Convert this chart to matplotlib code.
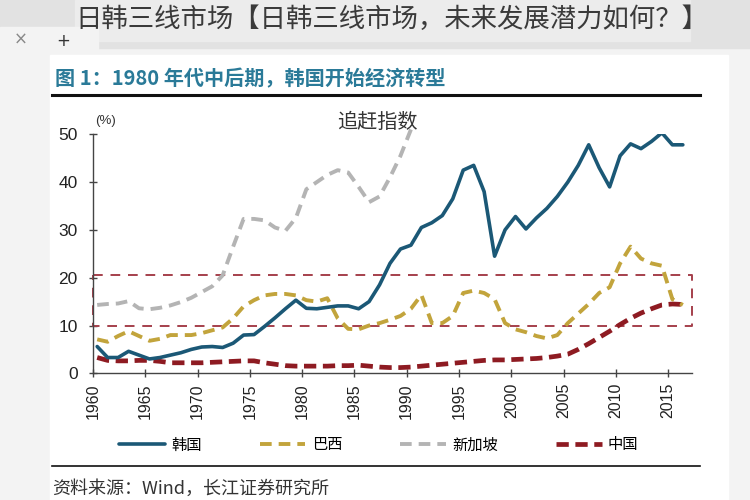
import numpy as np
import matplotlib.pyplot as plt
from matplotlib.patches import Rectangle
from matplotlib.lines import Line2D

plt.rcParams['font.family'] = ['Noto Sans CJK SC', 'DejaVu Sans']

# ---- data (catch-up index, %) ----
years = list(range(1960, 2017))
korea = [5.6, 3.3, 3.3, 4.6, 3.8, 3.0, 3.3, 3.8, 4.3, 5.0,
         5.5, 5.6, 5.4, 6.3, 8.0, 8.1, 9.8, 11.6, 13.5, 15.3,
         13.6, 13.5, 13.8, 14.1, 14.1, 13.5, 15.0, 18.5, 23.0, 26.0,
         26.8, 30.5, 31.5, 33.0, 36.5, 42.5, 43.5, 38.0, 24.5, 30.0,
         32.8, 30.2, 32.5, 34.5, 37.0, 40.0, 43.5, 47.8, 43.0, 39.0,
         45.5, 48.0, 47.0, 48.5, 50.3, 47.8, 47.8]
brazil = [7.1, 6.6, 7.8, 8.8, 7.8, 6.8, 7.2, 8.0, 8.0, 8.0,
          8.4, 9.0, 9.6, 11.5, 14.0, 15.3, 16.3, 16.6, 16.6, 16.3,
          15.3, 15.0, 15.7, 11.5, 9.3, 9.2, 10.0, 10.5, 11.2, 12.0,
          13.5, 16.4, 10.5, 10.5, 12.0, 16.8, 17.3, 16.8, 15.5, 10.5,
          9.2, 8.6, 7.8, 7.3, 8.0, 10.5, 12.5, 14.5, 16.8, 18.0,
          23.0, 26.5, 24.0, 23.0, 22.5, 15.5, 14.3]
singapore_years = list(range(1960, 1991))
singapore = [14.3, 14.5, 14.6, 15.1, 13.6, 13.4, 13.7, 14.2, 14.9, 15.8,
             17.0, 18.2, 20.5, 26.5, 32.3, 32.3, 32.0, 30.5, 29.8, 32.5,
             38.5, 40.0, 41.5, 42.5, 42.0, 39.0, 35.8, 37.0, 41.0, 45.5,
             51.0]
china = [3.3, 2.7, 2.6, 2.6, 2.7, 2.7, 2.5, 2.2, 2.2, 2.2,
         2.2, 2.3, 2.4, 2.5, 2.6, 2.6, 2.2, 1.9, 1.6, 1.5,
         1.5, 1.5, 1.5, 1.6, 1.6, 1.7, 1.5, 1.3, 1.2, 1.2,
         1.3, 1.5, 1.7, 1.9, 2.1, 2.3, 2.5, 2.7, 2.8, 2.8,
         2.9, 3.0, 3.1, 3.3, 3.6, 4.0, 5.0, 6.2, 7.5, 8.8,
         10.2, 11.5, 12.6, 13.5, 14.3, 14.5, 14.4]
band = [10, 20.5]          # dashed box: middle-income trap zone
xticks = list(range(1960, 2016, 5))
yticks = [0, 10, 20, 30, 40, 50]

c_korea, c_brazil, c_sing, c_china = "#1b5876", "#c2a43c", "#b4b4b4", "#8e1b22"
c_box = "#a5404c"

fig = plt.figure(figsize=(7.5, 5), dpi=100)
fig.patch.set_facecolor("#f3f3f3")


def bg_rect(x, y, w, h, color):
    fig.patches.append(Rectangle((x, y), w, h, transform=fig.transFigure,
                                 color=color, zorder=-5))


# browser-like header strip
bg_rect(0, 0.905, 1, 0.095, "#e2e2e2")
bg_rect(0.1, 0.918, 0.82, 0.082, "#ececec")
bg_rect(0, 0.89, 0.13, 0.055, "#f3f3f3")
fig.text(0.1, 0.962, "日韩三线市场【日韩三线市场，未来发展潜力如何？】",
         fontsize=19, color="#3a3a3a", va="center", ha="left", fontweight="light")
fig.text(0.027, 0.921, "×", fontsize=12, color="#888888", va="center", ha="center",
         family=["DejaVu Sans"])
fig.text(0.084, 0.918, "+", fontsize=12, color="#333333", va="center", ha="center",
         family=["DejaVu Sans"])

# white chart card
bg_rect(0.067, 0, 0.904, 0.89, "white")
fig.text(0.073, 0.843, "图 1：1980 年代中后期，韩国开始经济转型",
         fontsize=14.5, color="#2a7a98", va="center", ha="left", fontweight="bold")
fig.add_artist(Line2D([0.069, 0.933], [0.81, 0.81], color="#111111", lw=2.2))
fig.add_artist(Line2D([0.069, 0.933], [0.068, 0.068], color="#111111", lw=1.2))
fig.text(0.07, 0.022, "资料来源：Wind，长江证券研究所", fontsize=13,
         color="#333333", va="center", ha="left")

ax = fig.add_axes([0.124, 0.2534, 0.799, 0.478])
ax.set_zorder(2)
ax.set_facecolor("none")

x_off = 0.4   # points sit inside each year slot
yr = np.array(years) + x_off
ax.plot(yr, china, color=c_china, lw=3.4, dashes=(2.6, 1.4), label="中国", zorder=3,
        dash_joinstyle="round")
ax.plot(np.array(singapore_years) + x_off, singapore, color=c_sing, lw=2.8,
        dashes=(3, 1.8), label="新加坡", zorder=3, clip_on=False, dash_joinstyle="round")
ax.plot(yr, brazil, color=c_brazil, lw=2.8, dashes=(3, 1.8), label="巴西", zorder=3,
        dash_joinstyle="round")
ax.plot(yr, korea, color=c_korea, lw=2.6, label="韩国", zorder=4,
        solid_joinstyle="round", solid_capstyle="round")

# dashed reference box
ax.plot([1960, 2017.3, 2017.3, 1960, 1960],
        [band[1], band[1], band[0], band[0], band[1]],
        color=c_box, lw=1.4, dashes=(5, 4), zorder=2, clip_on=False)

ax.set_xlim(1960, 2017.3)
ax.set_ylim(0, 50)
ax.set_xticks(xticks)
ax.set_xticklabels([str(v) for v in xticks], rotation=90,
                   family=["Liberation Sans"], fontsize=11.5, color="#222222")
ax.set_yticks(yticks)
ax.set_yticklabels([str(v) for v in yticks], family=["Liberation Sans"],
                   fontsize=12.5, color="#222222")
ax.tick_params(axis="both", direction="inout", length=6, width=1, color="#444444", pad=4)
ax.tick_params(axis="y", pad=8)
for s in ["top", "right"]:
    ax.spines[s].set_visible(False)
for s in ["left", "bottom"]:
    ax.spines[s].set_color("#444444")
    ax.spines[s].set_linewidth(1)

ax.text(0.003, 1.03, "(%)", transform=ax.transAxes, fontsize=9.5, color="#333333",
        family=["Liberation Sans"], ha="left", va="bottom")
ax.text(1987.2, 52.5, "追赶指数", fontsize=14.5, color="#333333", ha="center",
        va="center")

handles, labels = ax.get_legend_handles_labels()
order = [3, 2, 1, 0]
ax.legend([handles[i] for i in order], [labels[i] for i in order], ncol=4,
          loc="center", bbox_to_anchor=(0.505, 0.11), bbox_transform=fig.transFigure,
          frameon=False, fontsize=11, handlelength=3.0, handletextpad=0.4,
          columnspacing=3.8)

fig.savefig("out.png", dpi=100)
